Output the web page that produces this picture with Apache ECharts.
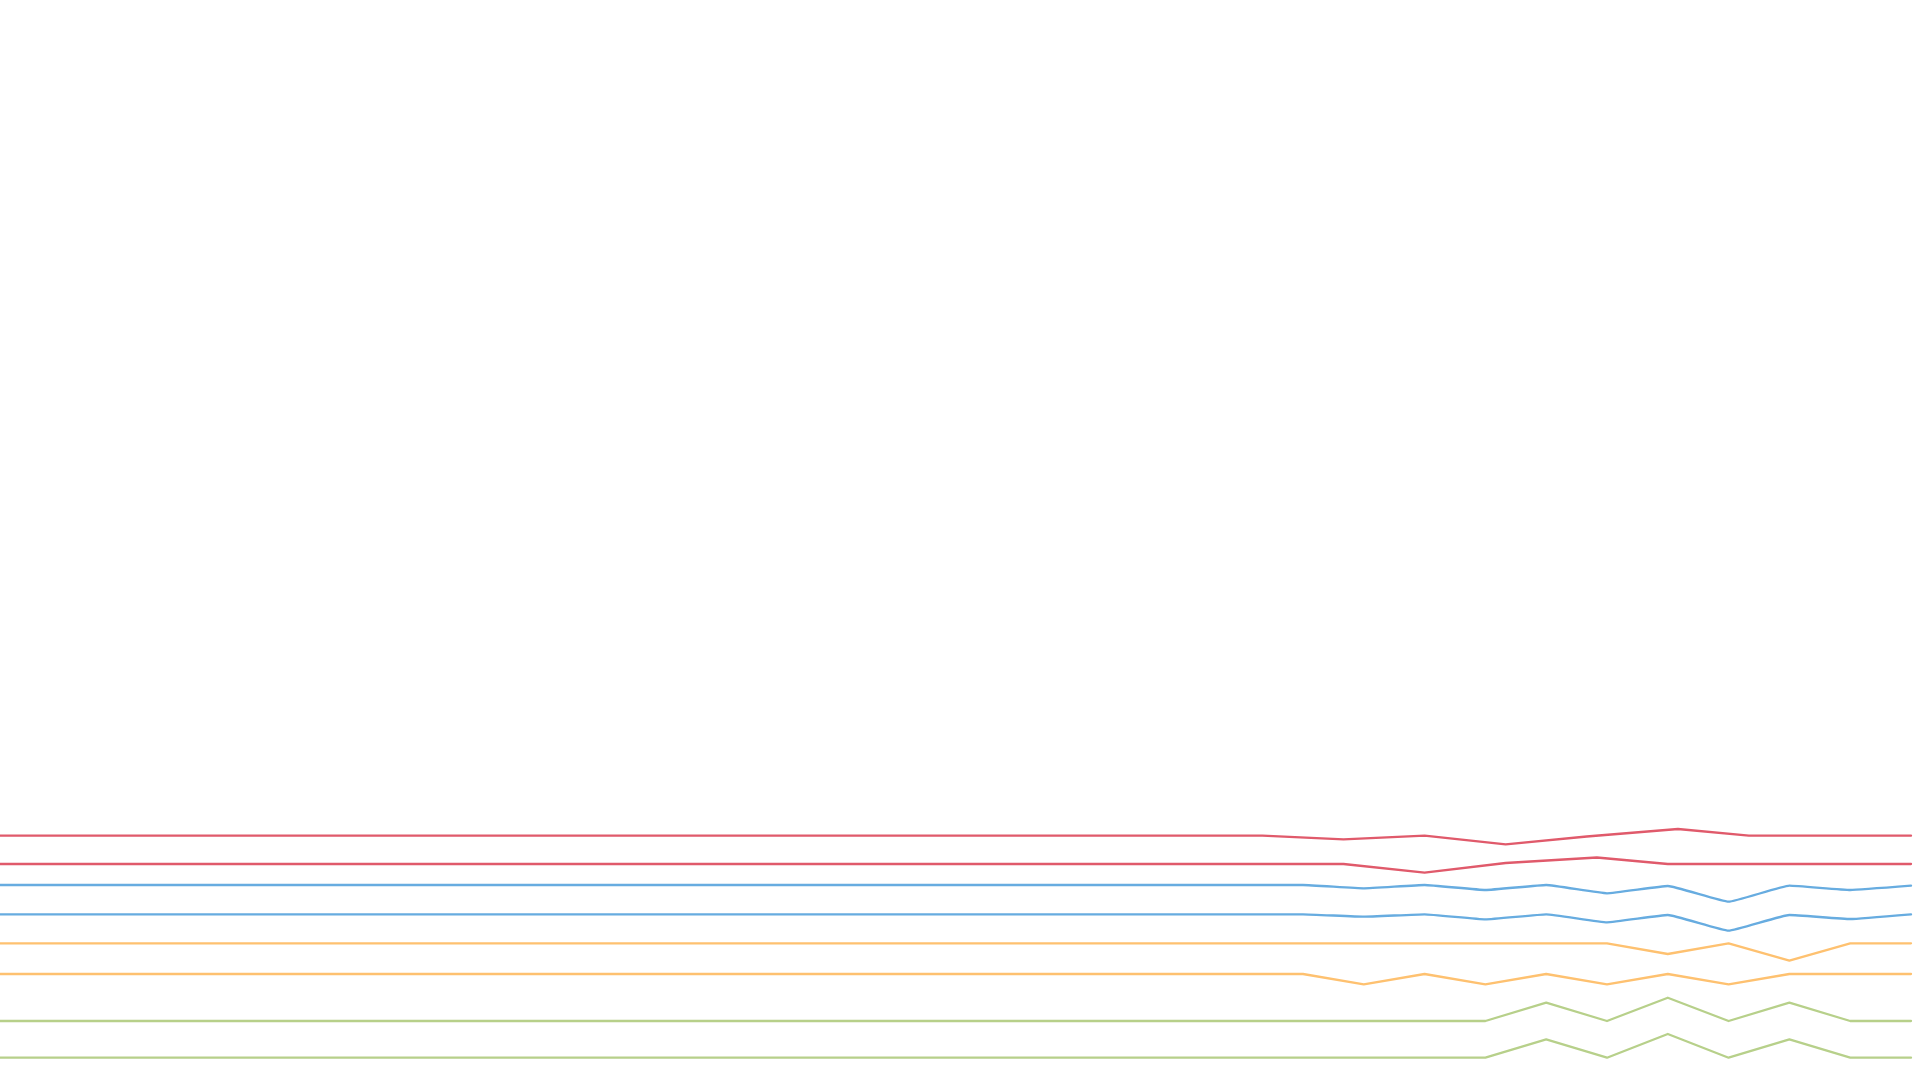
<!DOCTYPE html>
<html>
<head>
<meta charset="utf-8">
<style>
  html, body { margin: 0; padding: 0; background: #ffffff; }
  #chart { width: 1920px; height: 1080px; }
</style>
<script src="https://cdn.jsdelivr.net/npm/echarts@6/dist/echarts.min.js"></script>
</head>
<body>
<div id="chart"></div>
<script>
// time steps (shared time base)
const timesFine = [0,3,6,9,12,15,18,21,24,27,30,33,36,39,42,45,48,51,54,57,60,63,66,69,72,75,78,81,84,87,90,93,96];
const timesRedA = [0,4,8,12,16,20,24,28,32,36,40,44,48,52,56,60,64,68,72,76,80,84.5,88,92,96];
const timesRedB = [0,4,8,12,16,20,24,28,32,36,40,44,48,52,56,60,64,68,72,76,80.5,84,88,92,96];

// red series
const redA = [24.43,24.43,24.43,24.43,24.43,24.43,24.43,24.43,24.43,24.43,24.43,24.43,24.43,24.43,24.43,24.43,24.43,24.07,24.43,23.57,24.35,25.10,24.43,24.43,24.43];
const redB = [21.60,21.60,21.60,21.60,21.60,21.60,21.60,21.60,21.60,21.60,21.60,21.60,21.60,21.60,21.60,21.60,21.60,21.60,20.73,21.70,22.25,21.60,21.60,21.60,21.60];

// blue series
const blueA = [19.50,19.50,19.50,19.50,19.50,19.50,19.50,19.50,19.50,19.50,19.50,19.50,19.50,19.50,19.50,19.50,19.50,19.50,19.50,19.50,19.50,19.50,19.50,19.17,19.50,19.00,19.50,18.67,19.40,17.83,19.43,19.00,19.43];
const blueB = [16.57,16.57,16.57,16.57,16.57,16.57,16.57,16.57,16.57,16.57,16.57,16.57,16.57,16.57,16.57,16.57,16.57,16.57,16.57,16.57,16.57,16.57,16.57,16.33,16.57,16.07,16.57,15.77,16.50,14.93,16.50,16.10,16.57];

// orange series
const orangeA = [13.67,13.67,13.67,13.67,13.67,13.67,13.67,13.67,13.67,13.67,13.67,13.67,13.67,13.67,13.67,13.67,13.67,13.67,13.67,13.67,13.67,13.67,13.67,13.67,13.67,13.67,13.67,13.67,12.60,13.67,11.93,13.67,13.67];
const orangeB = [10.60,10.60,10.60,10.60,10.60,10.60,10.60,10.60,10.60,10.60,10.60,10.60,10.60,10.60,10.60,10.60,10.60,10.60,10.60,10.60,10.60,10.60,10.60,9.57,10.60,9.57,10.60,9.57,10.60,9.57,10.60,10.60,10.60];

// green series
const greenA = [5.90,5.90,5.90,5.90,5.90,5.90,5.90,5.90,5.90,5.90,5.90,5.90,5.90,5.90,5.90,5.90,5.90,5.90,5.90,5.90,5.90,5.90,5.90,5.90,5.90,5.90,7.73,5.90,8.23,5.90,7.73,5.90,5.90];
const greenB = [2.23,2.23,2.23,2.23,2.23,2.23,2.23,2.23,2.23,2.23,2.23,2.23,2.23,2.23,2.23,2.23,2.23,2.23,2.23,2.23,2.23,2.23,2.23,2.23,2.23,2.23,4.07,2.23,4.60,2.23,4.07,2.23,2.23];

const RED = '#E05A6B', BLUE = '#67ACE0', ORANGE = '#FEC170', GREEN = '#B7D08A';

function pairs(times, vals) { return times.map((t, i) => [t, vals[i]]); }
function mk(name, times, vals, color, smooth) {
  return {
    name, type: 'line', data: pairs(times, vals),
    showSymbol: false, symbol: 'none', smooth: smooth || false,
    lineStyle: { color, width: 2.3, join: 'round', cap: 'round' },
    itemStyle: { color }, clip: true, silent: true
  };
}

const chart = echarts.init(document.getElementById('chart'), null, { renderer: 'canvas' });
chart.setOption({
  animation: false,
  backgroundColor: '#ffffff',
  grid: { left: 0, right: 9, top: 0, bottom: 0, containLabel: false },
  xAxis: { type: 'value', min: 1.71, max: 96, show: false },
  yAxis: { type: 'value', min: 0, max: 108, show: false },
  series: [
    mk('red-1', timesRedA, redA, RED),
    mk('red-2', timesRedB, redB, RED),
    mk('blue-1', timesFine, blueA, BLUE, 0.1),
    mk('blue-2', timesFine, blueB, BLUE, 0.1),
    mk('orange-1', timesFine, orangeA, ORANGE),
    mk('orange-2', timesFine, orangeB, ORANGE),
    mk('green-1', timesFine, greenA, GREEN),
    mk('green-2', timesFine, greenB, GREEN)
  ]
});
</script>
</body>
</html>
